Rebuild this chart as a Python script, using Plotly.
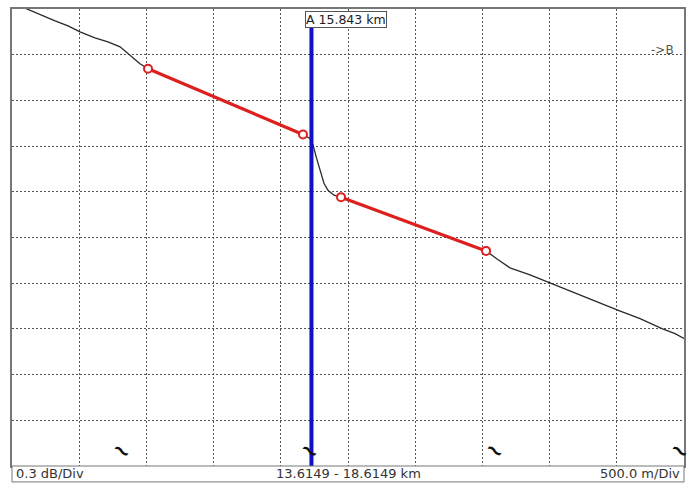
import plotly.graph_objects as go

# ---- data (km, relative dB) ----
x_start_km = 13.6149
x_end_km = 18.6149
km_per_div = 0.5
db_per_div = 0.3
n_ydiv = 10

trace_km = [13.6149, 13.727, 13.823, 13.935, 14.032, 14.121, 14.232, 14.329, 14.419,
            14.478, 14.523, 14.567, 14.627, 15.014, 15.386, 15.780, 15.832, 15.854,
            15.877, 15.907, 15.936, 15.966, 16.011, 16.063, 16.502, 17.142, 17.224,
            17.320, 17.469, 17.633, 17.804, 17.990, 18.131, 18.288, 18.451, 18.548, 18.6149]
trace_db = [0.042, 0.000, -0.039, -0.078, -0.111, -0.150, -0.190, -0.216, -0.248,
            -0.294, -0.327, -0.359, -0.392, -0.537, -0.676, -0.824, -0.850, -0.889,
            -0.967, -1.065, -1.144, -1.190, -1.222, -1.235, -1.379, -1.588, -1.641,
            -1.699, -1.745, -1.804, -1.863, -1.928, -1.980, -2.033, -2.098, -2.131, -2.163]

lsa1_km = [14.627, 15.780]
lsa1_db = [-0.392, -0.824]
lsa2_km = [16.063, 17.142]
lsa2_db = [-1.235, -1.588]

cursor_km = 15.843
cursor_label = "A 15.843 km"
event_km = [14.433, 15.83, 17.209, 18.585]
end_label = "->B"
end_label_db = -0.268

status_left = "0.3 dB/Div"
status_mid = "13.6149 - 18.6149 km"
status_right = "500.0 m/Div"

FONT = "DejaVu Sans, Verdana, sans-serif"

fig = go.Figure()
fig.add_trace(go.Scatter(x=trace_km, y=trace_db, mode="lines",
                         line=dict(color="#2a2a2a", width=1.3), hoverinfo="skip"))
for kx, dy in ((lsa1_km, lsa1_db), (lsa2_km, lsa2_db)):
    fig.add_trace(go.Scatter(x=kx, y=dy, mode="lines+markers",
                             line=dict(color="#dd1f1f", width=3.2),
                             marker=dict(symbol="circle", size=8, color="white",
                                         line=dict(color="#dd1f1f", width=2)),
                             hoverinfo="skip"))

# event markers
for ek in event_km:
    fig.add_annotation(x=ek, xref="x", y=0.035, yref="paper", text="~", showarrow=False,
                       textangle=35, xanchor="center", yanchor="middle",
                       font=dict(family="DejaVu Sans", size=22, color="#111", weight="bold"))

# cursor A
fig.add_shape(type="line", xref="x", yref="paper", x0=cursor_km, x1=cursor_km,
              y0=0, y1=0.961, line=dict(color="#1010c8", width=4))
fig.add_annotation(x=cursor_km, xref="x", y=1, yref="paper", xanchor="left", yanchor="top",
                   xshift=-6, yshift=-2, text=cursor_label, showarrow=False,
                   font=dict(family=FONT, size=12.5, color="#222"),
                   bgcolor="white", bordercolor="#555", borderwidth=1, borderpad=0)
# end B
fig.add_annotation(x=1, xref="paper", y=end_label_db, yref="y", xanchor="right",
                   yanchor="middle", xshift=-8, text=end_label, showarrow=False,
                   font=dict(family=FONT, size=12, color="#555"))

# status bar
fig.add_shape(type="rect", xref="paper", yref="paper", x0=0, x1=1, y0=0, y1=-0.0349,
              line=dict(color="#777", width=1), fillcolor="white")
for txt, xp, anc, sh in ((status_left, 0, "left", 2), (status_mid, 0.5, "center", 0),
                         (status_right, 1, "right", -2)):
    fig.add_annotation(x=xp, xref="paper", y=-0.0174, yref="paper", xanchor=anc,
                       yanchor="middle", xshift=sh, text=txt, showarrow=False,
                       font=dict(family=FONT, size=13, color="#333"))

fig.update_xaxes(range=[x_start_km, x_end_km], tick0=x_start_km, dtick=km_per_div,
                 showgrid=True, gridcolor="#555", griddash="2px,2px", gridwidth=1.2,
                 showticklabels=False, ticks="", zeroline=False,
                 showline=True, mirror=True, linecolor="#777", linewidth=1.5)
fig.update_yaxes(range=[-db_per_div * n_ydiv, 0], tick0=0, dtick=db_per_div,
                 showgrid=True, gridcolor="#555", griddash="2px,2px", gridwidth=1.2,
                 showticklabels=False, ticks="", zeroline=False,
                 showline=True, mirror=True, linecolor="#777", linewidth=1.5)
fig.update_layout(width=697, height=484, margin=dict(l=12, r=13, t=7, b=18),
                  paper_bgcolor="white", plot_bgcolor="white", showlegend=False)
fig.write_html("out.html", config={"displayModeBar": False},
               post_script="document.body.style.margin='0px';document.body.style.overflow='hidden';")
